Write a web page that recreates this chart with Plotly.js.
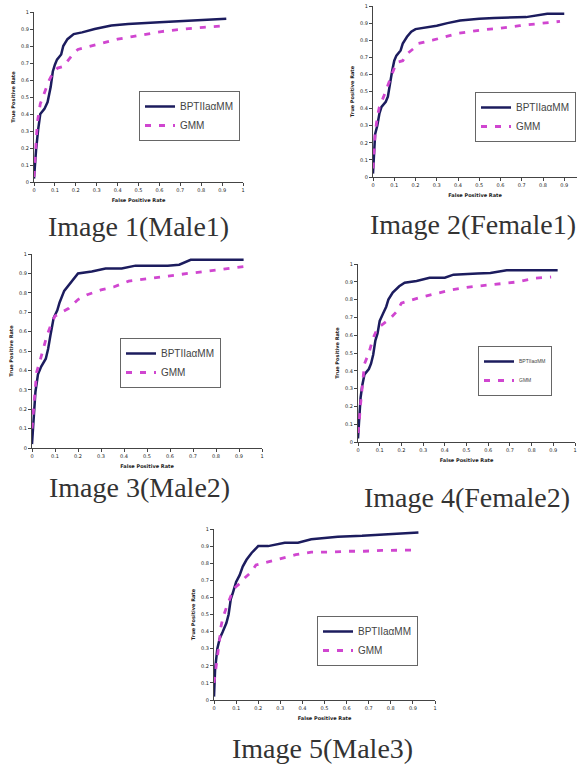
<!DOCTYPE html>
<html><head><meta charset="utf-8">
<script src="https://cdn.plot.ly/plotly-3.0.1.min.js"></script>
<style>html,body{margin:0;padding:0;background:#fff}#chart{width:580px;height:765px}</style>
</head><body><div id="chart"></div>
<script>
// ---- data ----
const seriesNames = ["BPTIIaαMM", "GMM"];
const captions = ["Image 1(Male1)", "Image 2(Female1)", "Image 3(Male2)", "Image 4(Female2)", "Image 5(Male3)"];
const xAxisTitle = "False Positive Rate";
const yAxisTitle = "True Positive Rate";
const tickVals = [0, 0.1, 0.2, 0.3, 0.4, 0.5, 0.6, 0.7, 0.8, 0.9, 1];
const tickText = ["0", "0.1", "0.2", "0.3", "0.4", "0.5", "0.6", "0.7", "0.8", "0.9", "1"];

const bpti1X = [0, 0.005, 0.01, 0.02, 0.03, 0.05, 0.065, 0.08, 0.09, 0.1, 0.11, 0.13, 0.14, 0.16, 0.19, 0.23, 0.29, 0.37, 0.45, 0.6, 0.68, 0.79, 0.92];
const bpti1Y = [0.02, 0.12, 0.19, 0.31, 0.40, 0.43, 0.47, 0.56, 0.65, 0.69, 0.72, 0.75, 0.80, 0.84, 0.87, 0.88, 0.90, 0.92, 0.93, 0.94, 0.945, 0.955, 0.96];
const gmm1X = [0, 0.005, 0.01, 0.016, 0.03, 0.05, 0.073, 0.09, 0.113, 0.14, 0.16, 0.185, 0.21, 0.27, 0.34, 0.40, 0.47, 0.54, 0.61, 0.68, 0.74, 0.81, 0.92];
const gmm1Y = [0.03, 0.15, 0.26, 0.35, 0.46, 0.53, 0.60, 0.64, 0.67, 0.68, 0.71, 0.75, 0.78, 0.80, 0.82, 0.84, 0.855, 0.87, 0.885, 0.895, 0.90, 0.91, 0.92];

const bpti2X = [0, 0.005, 0.01, 0.02, 0.03, 0.04, 0.06, 0.07, 0.08, 0.09, 0.10, 0.11, 0.13, 0.14, 0.16, 0.18, 0.2, 0.25, 0.3, 0.35, 0.41, 0.5, 0.57, 0.72, 0.82, 0.9];
const bpti2Y = [0.02, 0.15, 0.25, 0.30, 0.37, 0.41, 0.44, 0.47, 0.55, 0.62, 0.68, 0.71, 0.74, 0.78, 0.82, 0.85, 0.865, 0.875, 0.885, 0.90, 0.915, 0.925, 0.93, 0.935, 0.955, 0.955];
const gmm2X = [0, 0.005, 0.01, 0.02, 0.03, 0.05, 0.07, 0.09, 0.11, 0.14, 0.16, 0.19, 0.21, 0.28, 0.40, 0.51, 0.60, 0.69, 0.80, 0.88];
const gmm2Y = [0.05, 0.15, 0.25, 0.35, 0.41, 0.47, 0.54, 0.61, 0.67, 0.68, 0.72, 0.75, 0.78, 0.80, 0.84, 0.86, 0.87, 0.885, 0.90, 0.91];

const bpti3X = [0, 0.007, 0.015, 0.026, 0.04, 0.06, 0.07, 0.08, 0.094, 0.11, 0.12, 0.14, 0.16, 0.19, 0.2, 0.26, 0.32, 0.39, 0.45, 0.59, 0.64, 0.69, 0.92];
const bpti3Y = [0.02, 0.17, 0.29, 0.38, 0.42, 0.46, 0.51, 0.58, 0.67, 0.71, 0.75, 0.81, 0.84, 0.89, 0.90, 0.91, 0.925, 0.925, 0.94, 0.94, 0.945, 0.97, 0.97];
const gmm3X = [0, 0.01, 0.02, 0.036, 0.05, 0.065, 0.084, 0.10, 0.13, 0.16, 0.2, 0.24, 0.30, 0.355, 0.42, 0.48, 0.54, 0.61, 0.68, 0.75, 0.84, 0.92];
const gmm3Y = [0.10, 0.24, 0.39, 0.455, 0.515, 0.58, 0.64, 0.68, 0.70, 0.72, 0.765, 0.79, 0.815, 0.83, 0.86, 0.87, 0.88, 0.89, 0.90, 0.91, 0.925, 0.935];

const bpti4X = [0, 0.008, 0.012, 0.02, 0.03, 0.05, 0.06, 0.07, 0.08, 0.09, 0.10, 0.115, 0.13, 0.14, 0.16, 0.19, 0.215, 0.27, 0.33, 0.40, 0.44, 0.55, 0.61, 0.685, 0.92];
const bpti4Y = [0.02, 0.15, 0.25, 0.32, 0.38, 0.41, 0.44, 0.49, 0.57, 0.61, 0.68, 0.72, 0.76, 0.80, 0.84, 0.875, 0.895, 0.905, 0.923, 0.923, 0.94, 0.947, 0.95, 0.965, 0.965];
const gmm4X = [0, 0.005, 0.01, 0.02, 0.03, 0.05, 0.07, 0.09, 0.11, 0.145, 0.18, 0.2, 0.28, 0.35, 0.43, 0.51, 0.585, 0.66, 0.74, 0.815, 0.89];
const gmm4Y = [0.05, 0.10, 0.19, 0.32, 0.44, 0.50, 0.585, 0.64, 0.66, 0.69, 0.735, 0.78, 0.81, 0.83, 0.855, 0.87, 0.88, 0.89, 0.90, 0.92, 0.927];

const bpti5X = [0, 0.005, 0.015, 0.026, 0.04, 0.056, 0.066, 0.076, 0.086, 0.10, 0.116, 0.13, 0.147, 0.17, 0.2, 0.245, 0.32, 0.38, 0.44, 0.56, 0.67, 0.79, 0.925];
const bpti5Y = [0.02, 0.18, 0.30, 0.36, 0.40, 0.45, 0.50, 0.59, 0.63, 0.69, 0.73, 0.78, 0.82, 0.86, 0.90, 0.90, 0.92, 0.92, 0.94, 0.955, 0.96, 0.97, 0.98];
const gmm5X = [0, 0.01, 0.018, 0.026, 0.03, 0.04, 0.06, 0.08, 0.097, 0.116, 0.14, 0.17, 0.19, 0.22, 0.30, 0.37, 0.44, 0.52, 0.61, 0.68, 0.76, 0.83, 0.92];
const gmm5Y = [0.10, 0.20, 0.26, 0.36, 0.42, 0.48, 0.555, 0.62, 0.66, 0.68, 0.715, 0.75, 0.79, 0.80, 0.83, 0.85, 0.865, 0.865, 0.87, 0.87, 0.875, 0.875, 0.877];

// ---- layout geometry (pixels in a 580x765 page) ----
const W = 580, H = 765;
const panels = [
  {bx: bpti1X, by: bpti1Y, gx: gmm1X, gy: gmm1Y, px: [34, 243], py: [12, 182], xr: [0, 1], nt: 11,
   leg: [139, 91], legFont: 10, cap: [138, 226]},
  {bx: bpti2X, by: bpti2Y, gx: gmm2X, gy: gmm2Y, px: [373, 577], py: [6, 177], xr: [0, 0.96], nt: 10,
   leg: [475, 92], legFont: 10, cap: [473, 224]},
  {bx: bpti3X, by: bpti3Y, gx: gmm3X, gy: gmm3Y, px: [32, 262], py: [254, 448], xr: [0, 1], nt: 11,
   leg: [120, 338], legFont: 10, cap: [139, 488]},
  {bx: bpti4X, by: bpti4Y, gx: gmm4X, gy: gmm4Y, px: [358, 575], py: [264, 442], xr: [0, 1], nt: 11,
   leg: [478, 346], legFont: 5, cap: [467, 497]},
  {bx: bpti5X, by: bpti5Y, gx: gmm5X, gy: gmm5Y, px: [214, 435], py: [529, 700], xr: [0, 1], nt: 11,
   leg: [317, 616], legFont: 10, cap: [322, 748]}
];

const traces = [];
const layout = {
  width: W, height: H, margin: {l: 0, r: 0, t: 0, b: 0},
  paper_bgcolor: "#fff", plot_bgcolor: "#fff", showlegend: true,
  font: {family: "Liberation Sans, Arial, sans-serif", color: "#222"},
  annotations: []
};

panels.forEach((p, i) => {
  const n = i + 1;
  const xa = n === 1 ? "x" : "x" + n, ya = n === 1 ? "y" : "y" + n;
  const lg = n === 1 ? "legend" : "legend" + n;
  traces.push({x: p.bx, y: p.by, xaxis: xa, yaxis: ya, legend: lg, name: seriesNames[0],
    type: "scatter", mode: "lines", line: {color: "#1c1c5e", width: 2.5}});
  traces.push({x: p.gx, y: p.gy, xaxis: xa, yaxis: ya, legend: lg, name: seriesNames[1],
    type: "scatter", mode: "lines", line: {color: "#d046d0", width: 2.8, dash: "6px,8px"}});
  const axCommon = {showgrid: false, zeroline: false, showline: true, linecolor: "#444", linewidth: 1,
    ticks: "outside", ticklen: 3, tickwidth: 1, tickcolor: "#444", fixedrange: true,
    tickfont: {size: 5, family: "DejaVu Sans, sans-serif", color: "#222"}};
  layout[n === 1 ? "xaxis" : "xaxis" + n] = Object.assign({}, axCommon, {
    domain: [p.px[0] / W, p.px[1] / W], anchor: ya, range: p.xr,
    tickvals: tickVals.slice(0, p.nt), ticktext: tickText.slice(0, p.nt), tickangle: 0,
    title: {text: "<b>" + xAxisTitle + "</b>", font: {size: 5, family: "DejaVu Sans, sans-serif", color: "#222"}, standoff: 6}
  });
  layout[n === 1 ? "yaxis" : "yaxis" + n] = Object.assign({}, axCommon, {
    domain: [1 - p.py[1] / H, 1 - p.py[0] / H], anchor: xa, range: [0, 1],
    tickvals: tickVals, ticktext: tickText,
    title: {text: "<b>" + yAxisTitle + "</b>", font: {size: 5, family: "DejaVu Sans, sans-serif", color: "#222"}, standoff: 5}
  });
  layout[lg] = {x: p.leg[0] / W, y: 1 - p.leg[1] / H, xanchor: "left", yanchor: "top",
    bgcolor: "#fff", bordercolor: "#666", borderwidth: 1, tracegroupgap: 0,
    font: {size: p.legFont, family: "Liberation Sans, Arial, sans-serif", color: "#444"}};
  layout.annotations.push({text: captions[i], xref: "paper", yref: "paper", x: p.cap[0] / W, y: 1 - p.cap[1] / H,
    xanchor: "center", yanchor: "middle", showarrow: false,
    font: {family: "Liberation Serif, Times New Roman, serif", size: 28, color: "#333"}});
});

Plotly.newPlot("chart", traces, layout, {displayModeBar: false, staticPlot: true});
</script>
</body></html>
